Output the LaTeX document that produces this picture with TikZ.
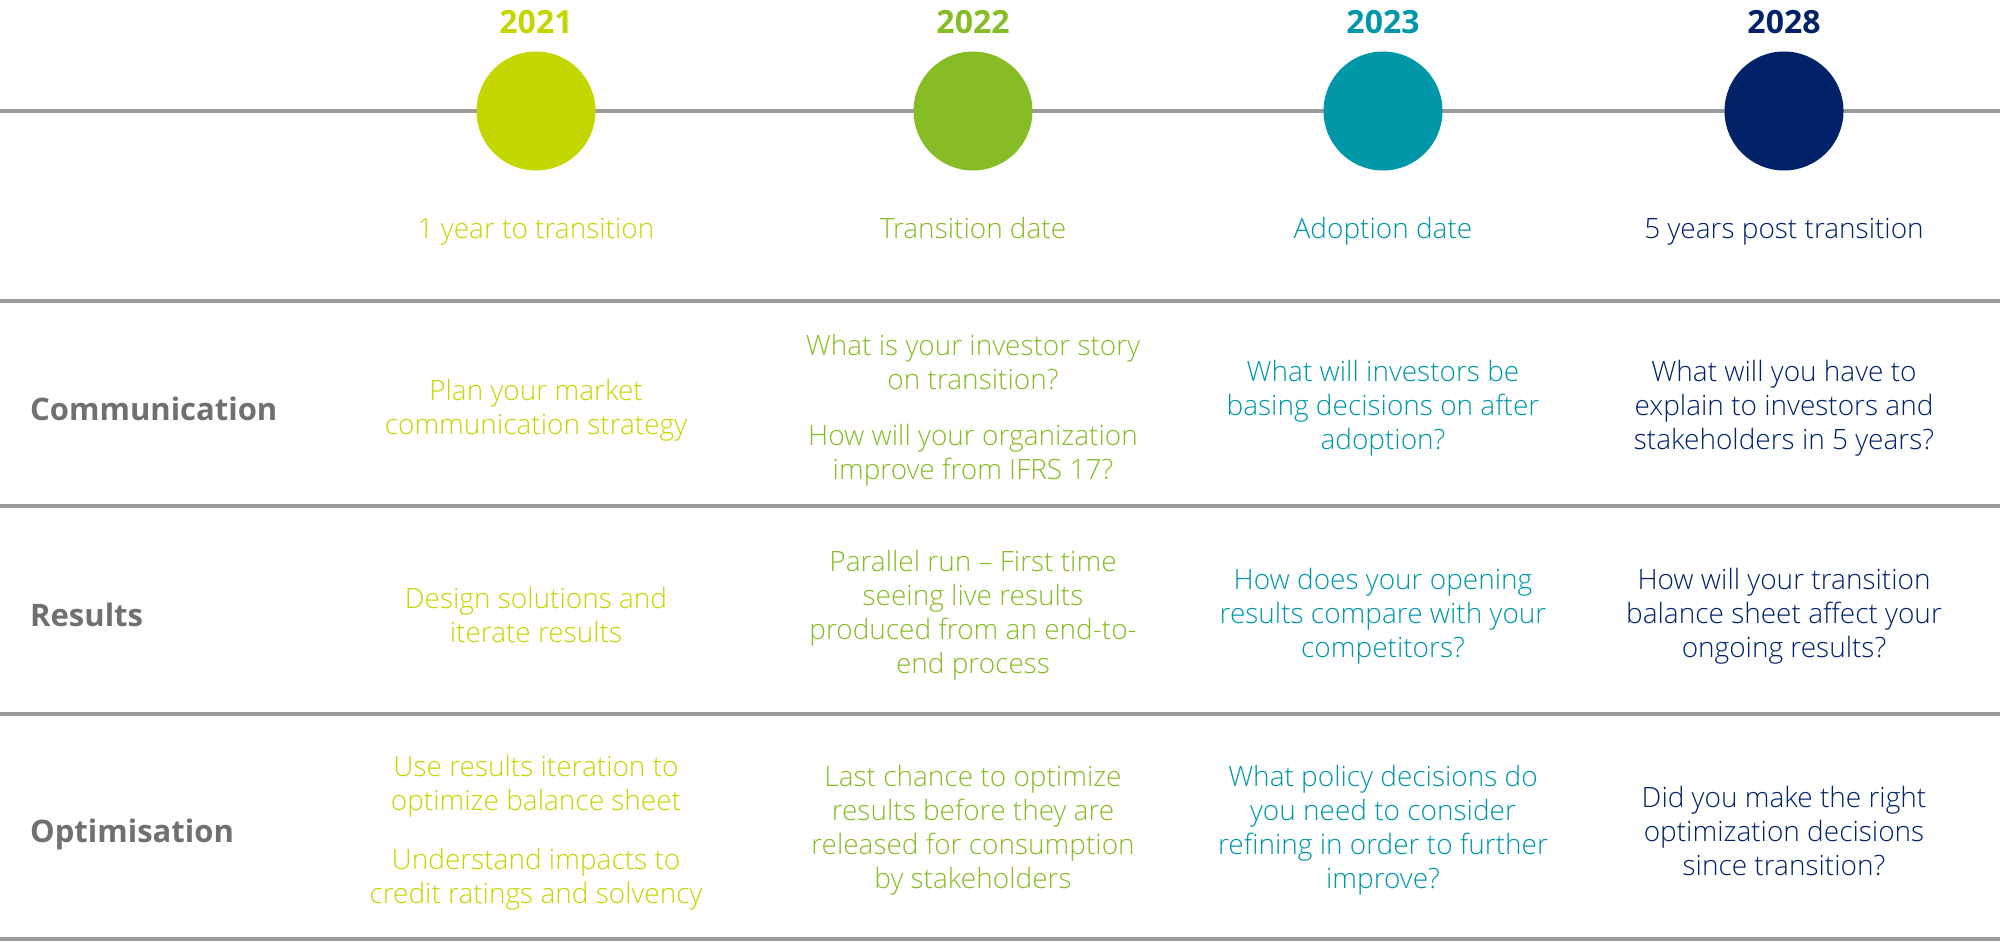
\documentclass[tikz,border=0pt]{standalone}
\usepackage{fontspec}
\IfFontExistsTF{Open Sans Light}{\setmainfont{Open Sans Light}}{\setmainfont{Open Sans}}
\newfontfamily\boldsans{Open Sans}

\definecolor{cA}{HTML}{C4D600}
\definecolor{cB}{HTML}{86BC25}
\definecolor{cC}{HTML}{0097A9}
\definecolor{cD}{HTML}{012169}
\definecolor{rulegray}{HTML}{9B9B9B}
\definecolor{labelgray}{HTML}{6F7072}

\begin{document}
\begin{tikzpicture}[x=1pt,y=-1pt,
  rule/.style={draw=rulegray, line width=3.6pt},
  dot/.style={circle, fill=#1, minimum size=119pt, inner sep=0pt},
  year/.style={font=\boldsans\bfseries\fontsize{32}{38}\selectfont, text=#1, inner sep=0pt},
  cell/.style={font=\fontsize{28}{34}\selectfont, text=#1, align=center, inner sep=0pt},
  milestone/.style={cell=#1, anchor=base},
  rowlabel/.style={font=\boldsans\bfseries\fontsize{31}{36}\selectfont, text=labelgray, anchor=west, inner sep=0pt}]
\useasboundingbox (0,0) rectangle (2000,942);

% timeline and row rules
\coordinate (tlL) at (0,111);    \coordinate (tlR) at (2000,111);
\coordinate (r1L) at (0,301);    \coordinate (r1R) at (2000,301);
\coordinate (r2L) at (0,506);    \coordinate (r2R) at (2000,506);
\coordinate (r3L) at (0,714);    \coordinate (r3R) at (2000,714);
\coordinate (r4L) at (0,939);    \coordinate (r4R) at (2000,939);
\draw[rule] (tlL) -- (tlR);
\draw[rule] (r1L) -- (r1R);
\draw[rule] (r2L) -- (r2R);
\draw[rule] (r3L) -- (r3R);
\draw[rule] (r4L) -- (r4R);

% milestones
\node[dot=cA] (d21) at (536,111) {};
\node[dot=cB] (d22) at (973,111) {};
\node[dot=cC] (d23) at (1383,111) {};
\node[dot=cD] (d28) at (1784,111) {};

\node[year=cA] (y21) at (536,22) {2021};
\node[year=cB] (y22) at (973,22) {2022};
\node[year=cC] (y23) at (1383,22) {2023};
\node[year=cD] (y28) at (1784,22) {2028};

\node[milestone=cA] (m21) at (536,238) {1 year to transition};
\node[milestone=cB] (m22) at (973,238) {Transition date};
\node[milestone=cC] (m23) at (1383,238) {Adoption date};
\node[milestone=cD] (m28) at (1784,238) {5 years post transition};

% row labels
\node[rowlabel] (lcom) at (30,409) {Communication};
\node[rowlabel] (lres) at (30,615) {Results};
\node[rowlabel] (lopt) at (30,834) {Optimisation};

% communication row
\node[cell=cA] (com21) at (536,410) {Plan your market\\communication strategy};
\node[cell=cB] (com22a) at (973,362) {What is your investor story\\on transition?};
\node[cell=cB] (com22b) at (973,455) {How will your organization\\improve from IFRS 17?};
\node[cell=cC] (com23) at (1383,408) {What will investors be\\basing decisions on after\\adoption?};
\node[cell=cD] (com28) at (1784,408) {What will you have to\\explain to investors and\\stakeholders in 5 years?};

% results row
\node[cell=cA] (res21) at (536,615) {Design solutions and\\iterate results};
\node[cell=cB] (res22) at (973,615) {Parallel run -- First time\\seeing live results\\produced from an end-to-\\end process};
\node[cell=cC] (res23) at (1383,616) {How does your opening\\results compare with your\\competitors?};
\node[cell=cD] (res28) at (1784,616) {How will your transition\\balance sheet affect your\\ongoing results?};

% optimisation row
\node[cell=cA] (opt21a) at (536,786) {Use results iteration to\\optimize balance sheet};
\node[cell=cA] (opt21b) at (536,879) {Understand impacts to\\credit ratings and solvency};
\node[cell=cB] (opt22) at (973,830) {Last chance to optimize\\results before they are\\released for consumption\\by stakeholders};
\node[cell=cC] (opt23) at (1383,830) {What policy decisions do\\you need to consider\\refining in order to further\\improve?};
\node[cell=cD] (opt28) at (1784,831) {Did you make the right\\optimization decisions\\since transition?};
\end{tikzpicture}
\end{document}
